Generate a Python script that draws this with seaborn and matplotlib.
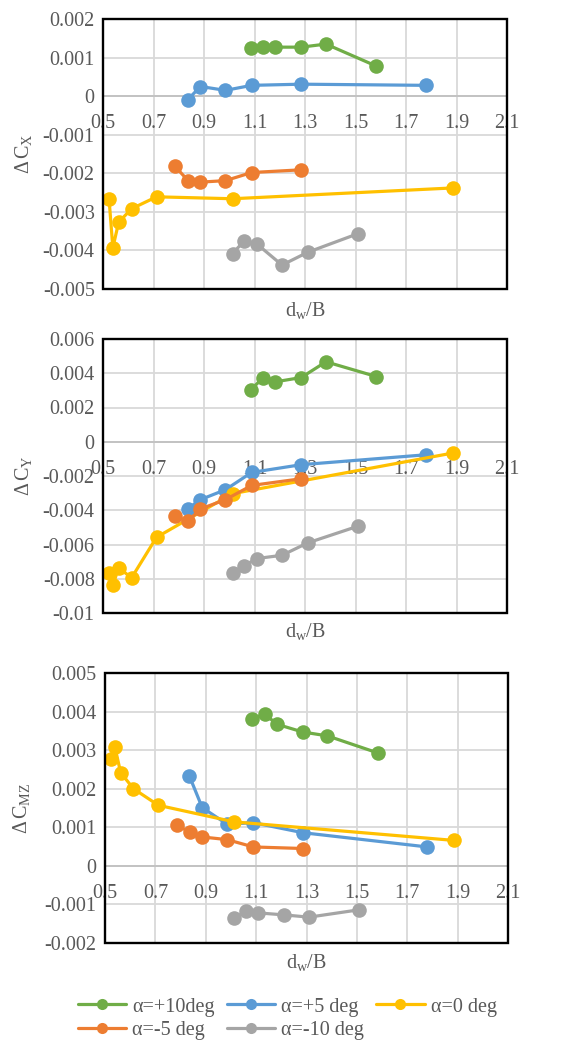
import numpy as np
import pandas as pd
import matplotlib
matplotlib.use("Agg")
import matplotlib.pyplot as plt
from matplotlib.patches import Rectangle
from matplotlib.lines import Line2D
from matplotlib.ticker import FuncFormatter
import seaborn as sns

# ---------------- data ----------------
series_labels = ["α=+10deg", "α=+5 deg", "α=0 deg", "α=-5 deg", "α=-10 deg"]
series_colors = ["#70AD47", "#5B9BD5", "#FFC000", "#ED7D31", "#A5A5A5"]

x_p10 = [1.085, 1.135, 1.183, 1.285, 1.383, 1.582]
x_p5 = [0.835, 0.886, 0.985, 1.089, 1.285, 1.780]
x_0 = [0.524, 0.539, 0.562, 0.613, 0.712, 1.013, 1.885]
x_m5 = [0.785, 0.837, 0.885, 0.985, 1.089, 1.285]
x_m10 = [1.013, 1.060, 1.109, 1.209, 1.310, 1.508]

cx_p10 = [0.00124, 0.00127, 0.00127, 0.00127, 0.00135, 0.00078]
cx_p5 = [-0.000095, 0.00025, 0.00015, 0.00028, 0.00031, 0.00028]
cx_0 = [-0.00267, -0.00393, -0.00327, -0.00292, -0.00261, -0.00266, -0.00238]
cx_m5 = [-0.00182, -0.00219, -0.00223, -0.00219, -0.00198, -0.00191]
cx_m10 = [-0.00408, -0.00375, -0.00383, -0.00438, -0.00405, -0.00357]

cy_p10 = [0.00303, 0.00375, 0.00350, 0.00375, 0.00467, 0.00381]
cy_p5 = [-0.00393, -0.00338, -0.00280, -0.00179, -0.00134, -0.00076]
cy_0 = [-0.00766, -0.00838, -0.00735, -0.00795, -0.00558, -0.00303, -0.00066]
cy_m5 = [-0.00435, -0.00465, -0.00393, -0.00338, -0.00255, -0.00216]
cy_m10 = [-0.00766, -0.00723, -0.00682, -0.00663, -0.00591, -0.00494]

cmz_p10 = [0.00382, 0.00393, 0.00367, 0.00347, 0.00337, 0.00293]
cmz_p5 = [0.00233, 0.00151, 0.00108, 0.00112, 0.00086, 0.00049]
cmz_0 = [0.00277, 0.00309, 0.00242, 0.00200, 0.00157, 0.00114, 0.00066]
cmz_m5 = [0.00105, 0.00088, 0.00075, 0.00068, 0.00049, 0.00045]
cmz_m10 = [-0.00135, -0.00118, -0.00122, -0.00127, -0.00133, -0.00114]

x_ticks = [0.5, 0.7, 0.9, 1.1, 1.3, 1.5, 1.7, 1.9, 2.1]
y_ticks_cx = [-0.005, -0.004, -0.003, -0.002, -0.001, 0, 0.001, 0.002]
y_ticks_cy = [-0.01, -0.008, -0.006, -0.004, -0.002, 0, 0.002, 0.004, 0.006]
y_ticks_cmz = [-0.002, -0.001, 0, 0.001, 0.002, 0.003, 0.004, 0.005]

ylabels = [r"$\Delta\,\mathrm{C_X}$", r"$\Delta\,\mathrm{C_Y}$", r"$\Delta\,\mathrm{C_{MZ}}$"]
xlabel = r"$\mathrm{d_w/B}$"

xs = [x_p10, x_p5, x_0, x_m5, x_m10]
panels = [
    ([cx_p10, cx_p5, cx_0, cx_m5, cx_m10], y_ticks_cx),
    ([cy_p10, cy_p5, cy_0, cy_m5, cy_m10], y_ticks_cy),
    ([cmz_p10, cmz_p5, cmz_0, cmz_m5, cmz_m10], y_ticks_cmz),
]

# ---------------- style ----------------
sns.set_style("white")
plt.rcParams["font.family"] = ["Liberation Serif", "DejaVu Serif"]
plt.rcParams["mathtext.fontset"] = "custom"
plt.rcParams["mathtext.rm"] = "Liberation Serif"
plt.rcParams["mathtext.it"] = "Liberation Serif:italic"
plt.rcParams["axes.unicode_minus"] = False

TXT = "#595959"
FS = 14.5

fig = plt.figure(figsize=(5.69, 10.42), dpi=100)

# axes rectangles in figure fraction (left, bottom, width, height)
rects = [
    (103 / 569, 1 - 289 / 1042, 404 / 569, 270 / 1042),
    (103 / 569, 1 - 613 / 1042, 404 / 569, 274 / 1042),
    (105 / 569, 1 - 943 / 1042, 403 / 569, 270 / 1042),
]
xlabel_y = [-0.042, -0.03, -0.033]
ylabel_x = [-0.172, -0.172, -0.180]

fmt = FuncFormatter(lambda v, p: f"{v:g}")

for i, ((ys, yt), rect) in enumerate(zip(panels, rects)):
    ax = fig.add_axes(rect)
    rows = []
    for lab, xv, yv in zip(series_labels, xs, ys):
        for a, b in zip(xv, yv):
            rows.append({"x": a, "y": b, "series": lab})
    df = pd.DataFrame(rows)
    sns.lineplot(data=df, x="x", y="y", hue="series", hue_order=series_labels,
                 palette=series_colors, marker="o", markersize=10.5,
                 markeredgewidth=0, linewidth=2.3, sort=False, estimator=None,
                 legend=False, ax=ax, zorder=2)
    ax.set_xlim(x_ticks[0], x_ticks[-1])
    ax.set_ylim(yt[0], yt[-1])
    ax.set_xticks(x_ticks)
    ax.set_yticks(yt)
    ax.xaxis.set_major_formatter(fmt)
    ax.yaxis.set_major_formatter(fmt)
    ax.grid(True, color="#D9D9D9", linewidth=1.3)
    ax.set_axisbelow(True)
    for s in ["top", "left", "right"]:
        ax.spines[s].set_visible(False)
    ax.spines["bottom"].set_position(("data", 0))
    ax.spines["bottom"].set_color("#BFBFBF")
    ax.spines["bottom"].set_linewidth(1.2)
    ax.spines["bottom"].set_zorder(1.5)
    ax.tick_params(axis="x", length=0, pad=13, labelsize=FS, labelcolor=TXT)
    ax.tick_params(axis="y", length=0, pad=6, labelsize=FS, labelcolor=TXT)
    ax.add_patch(Rectangle((0, 0), 1, 1, transform=ax.transAxes, fill=False,
                           edgecolor="black", linewidth=1.7, clip_on=False, zorder=5))
    ax.set_xlabel(xlabel, fontsize=FS, color=TXT)
    ax.xaxis.set_label_coords(0.5, xlabel_y[i])
    ax.xaxis.label.set_va("top")
    ax.set_ylabel(ylabels[i], fontsize=FS, color=TXT)
    ax.yaxis.set_label_coords(ylabel_x[i], 0.5)

# legend (row-major order like Excel)
handles = [Line2D([0], [0], color=c, lw=2.3, marker="o", markersize=8,
                  markeredgewidth=0) for c in series_colors]
order = [0, 3, 1, 4, 2]
leg = fig.legend([handles[k] for k in order], [series_labels[k] for k in order],
                 ncol=3, loc="center", bbox_to_anchor=(0.505, 0.0225),
                 frameon=False, fontsize=FS, handlelength=2.4,
                 handletextpad=0.3, columnspacing=0.6, labelspacing=0.2,
                 borderpad=0)
for t in leg.get_texts():
    t.set_color(TXT)

fig.savefig("out.png", dpi=100)
